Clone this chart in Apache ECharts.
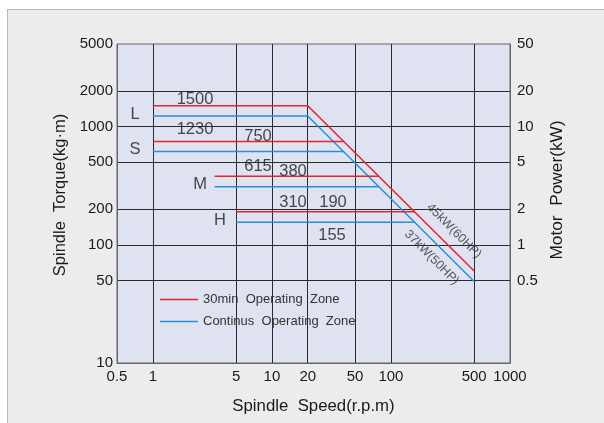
<!DOCTYPE html>
<html>
<head>
<meta charset="utf-8">
<script src="https://cdn.jsdelivr.net/npm/echarts@6/dist/echarts.min.js"></script>
<style>
  html, body { margin: 0; padding: 0; background: #ffffff; }
  #frame { position: absolute; left: 7px; top: 9px; width: 700px; height: 500px;
           border-left: 1px solid #b8b8b8; border-top: 1px solid #b8b8b8; background: #ececec; }
  #chart { position: absolute; left: 0; top: 0; width: 604px; height: 423px; }
</style>
</head>
<body>
<div id="frame"></div>
<div id="chart"></div>
<script>
// ---- data ----
const gearNames = ['L', 'S', 'M', 'H'];
const torque30min = [1500, 750, 380, 190];        // kg·m, 30min rating
const torqueCont = [1230, 615, 310, 155];         // kg·m, continuous rating
const gearStartSpeed = [1, 1, 3.3, 5];            // r.p.m
const gearEndSpeed30 = [20, 40, 79, 158];         // r.p.m, where 30min line meets power limit
const gearEndSpeedCont = [20, 40, 79, 159];       // r.p.m, where continuous line meets power limit
const maxSpeed = 500;
const torqueAtMax30 = 60;
const torqueAtMaxCont = 49;
const powerRatings = ['45kW(60HP)', '37kW(50HP)'];
const seriesNames = ['30min Operating Zone', 'Continus Operating Zone'];
const speedLabels = [0.5, 1, 5, 10, 20, 50, 100, 500, 1000];
const speedGrid = [1, 5, 10, 20, 50, 100, 500];
const torqueLabels = [10, 50, 100, 200, 500, 1000, 2000, 5000];
const torqueGrid = [50, 100, 200, 500, 1000, 2000];
const powerLabels = [0.5, 1, 2, 5, 10, 20, 50];

// ---- styling / layout ----
const RED = '#e8222e';
const BLUE = '#2a8fd6';
const FONT = "'Liberation Sans', Arial, sans-serif";

// label anchor points (data coordinates) for annotation text
const gearLetterAt = [[0.708, 1279], [0.708, 647], [2.49, 321], [3.67, 162]];
const val30At = [[2.26, 1712], [7.64, 833], [15.04, 421], [32.6, 230]];
const valContAt = [[2.26, 954], [7.64, 464], [15.04, 230], [32.0, 119]];
const powerAt = [[339, 131], [220, 78]];

const series = [];
gearNames.forEach((g, i) => {
  const red = [[gearStartSpeed[i], torque30min[i]], [gearEndSpeed30[i], torque30min[i]]];
  const blue = [[gearStartSpeed[i], torqueCont[i]], [gearEndSpeedCont[i], torqueCont[i]]];
  if (i === 0) { red.push([maxSpeed, torqueAtMax30]); blue.push([maxSpeed, torqueAtMaxCont]); }
  series.push({ type: 'line', name: seriesNames[0], data: red, symbol: 'none', silent: true,
    lineStyle: { color: RED, width: 1.5 }, itemStyle: { color: RED }, z: 3 });
  series.push({ type: 'line', name: seriesNames[1], data: blue, symbol: 'none', silent: true,
    lineStyle: { color: BLUE, width: 1.5 }, itemStyle: { color: BLUE }, z: 3 });
});

const textPoints = [];
gearNames.forEach((g, i) => {
  textPoints.push({ value: gearLetterAt[i], label: { formatter: g } });
  textPoints.push({ value: val30At[i], label: { formatter: String(torque30min[i]) } });
  textPoints.push({ value: valContAt[i], label: { formatter: String(torqueCont[i]) } });
});
powerRatings.forEach((p, i) => {
  textPoints.push({ value: powerAt[i], label: { formatter: p, rotate: -45, fontSize: 12.5, color: '#333' } });
});
series.push({
  type: 'scatter', name: 'annotations', data: textPoints, symbolSize: 0, silent: true, z: 5,
  label: { show: true, position: 'inside', color: '#1a1a1a', fontFamily: FONT, fontSize: 16.5 }
});

const plain = v => String(v);

const chart = echarts.init(document.getElementById('chart'), null, { renderer: 'canvas' });
chart.setOption({
  animation: false,
  backgroundColor: 'transparent',
  grid: { left: 117, right: 94, top: 44, bottom: 60, show: true,
          backgroundColor: '#dfe3f1', borderColor: '#666', borderWidth: 1, containLabel: false },
  legend: {
    data: seriesNames, orient: 'vertical', left: 160, top: 292, padding: 0,
    icon: 'rect', itemWidth: 38, itemHeight: 1.5, itemGap: 7,
    selectedMode: false,
    formatter: n => n.replace(/ /g, '  '),
    textStyle: { fontFamily: FONT, fontSize: 13, color: '#333', lineHeight: 15 }
  },
  xAxis: {
    type: 'log', logBase: 10, min: 0.5, max: 1000,
    name: 'Spindle  Speed(r.p.m)', nameLocation: 'middle', nameGap: 35,
    nameTextStyle: { fontFamily: FONT, fontSize: 16.8, color: '#1a1a1a' },
    axisLine: { show: true, lineStyle: { color: '#666' } },
    axisTick: { show: false, customValues: speedGrid },
    axisLabel: { customValues: speedLabels, formatter: plain, fontFamily: FONT, fontSize: 15, color: '#1a1a1a', margin: 6 },
    splitLine: { show: true, lineStyle: { color: '#2a2a2a', width: 1 } },
    minorSplitLine: { show: false }
  },
  yAxis: [{
    type: 'log', logBase: 10, min: 10, max: 5000, position: 'left',
    name: 'Spindle  Torque(kg·m)', nameLocation: 'middle', nameGap: 37, nameRotate: 90,
    nameTextStyle: { fontFamily: FONT, fontSize: 16.5, color: '#1a1a1a', padding: [0, 0, 0, 17] },
    axisLine: { show: true, lineStyle: { color: '#666' } },
    axisTick: { show: false, customValues: torqueGrid },
    axisLabel: { customValues: torqueLabels, formatter: plain, fontFamily: FONT, fontSize: 15, color: '#1a1a1a', margin: 4 },
    splitLine: { show: true, lineStyle: { color: '#2a2a2a', width: 1 } }
  }, {
    type: 'log', logBase: 10, min: 0.1, max: 50, position: 'right',
    name: 'Motor  Power(kW)', nameLocation: 'middle', nameGap: 31, nameRotate: 90,
    nameTextStyle: { fontFamily: FONT, fontSize: 17.3, color: '#1a1a1a', padding: [0, 0, 0, 27] },
    axisLine: { show: true, lineStyle: { color: '#666' } },
    axisTick: { show: false, customValues: powerLabels },
    axisLabel: { customValues: powerLabels, formatter: plain, fontFamily: FONT, fontSize: 15, color: '#1a1a1a', margin: 7 },
    splitLine: { show: false }
  }],
  series: series
});
</script>
</body>
</html>
